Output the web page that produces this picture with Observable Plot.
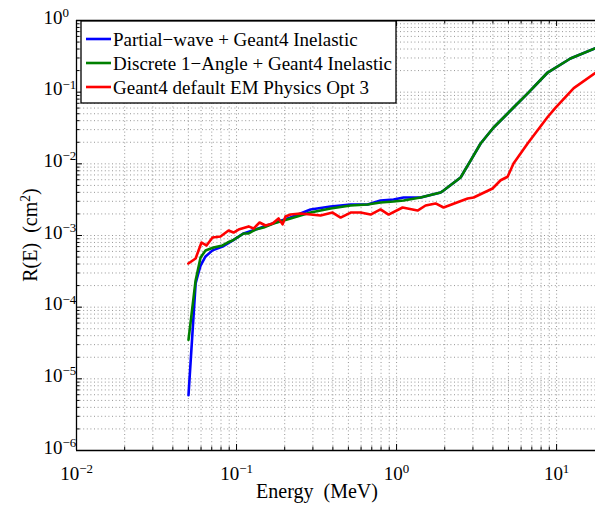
<!DOCTYPE html>
<html><head><meta charset="utf-8">
<script src="https://cdn.jsdelivr.net/npm/d3@7"></script>
<script src="https://cdn.jsdelivr.net/npm/@observablehq/plot@0.6"></script>
<style>
body{margin:0;background:#fff;overflow:hidden}
svg{display:block}
</style>
</head><body><div id="chart"></div>
<script>
// ---- data ----
const seriesNames = ["Partial\u2212wave + Geant4 Inelastic", "Discrete 1\u2212Angle + Geant4 Inelastic", "Geant4 default EM Physics Opt 3"];
const seriesColors = ["#0000ff", "#008000", "#ff0000"];

const blueE = [0.0501, 0.0555, 0.0579, 0.0596, 0.064, 0.0708, 0.0818, 0.0944, 0.1107, 0.1315, 0.1754, 0.2175, 0.29, 0.387, 0.516, 0.659, 0.794, 0.957, 1.106, 1.413, 1.884, 1.966, 2.512, 2.9, 3.35, 4.04, 5.38, 6.6, 8.79, 12.2, 17.5];
const blueR = [5.9e-6, 2.14e-4, 3.05e-4, 3.8e-4, 5.1e-4, 6.2e-4, 7.0e-4, 8.5e-4, 1.07e-3, 1.21e-3, 1.52e-3, 1.78e-3, 2.31e-3, 2.54e-3, 2.71e-3, 2.71e-3, 3.08e-3, 3.18e-3, 3.39e-3, 3.39e-3, 3.98e-3, 4.25e-3, 6.44e-3, 1.11e-2, 1.92e-2, 3.21e-2, 6.11e-2, 9.6e-2, 0.188, 0.295, 0.41];

const greenE = [0.0501, 0.0555, 0.0596, 0.064, 0.0718, 0.0818, 0.0879, 0.0944, 0.1107, 0.119, 0.1315, 0.1476, 0.170, 0.2175, 0.29, 0.387, 0.516, 0.659, 0.794, 0.957, 1.106, 1.413, 1.884, 1.966, 2.512, 2.9, 3.35, 4.04, 5.38, 6.6, 8.79, 12.2, 17.5];
const greenR = [3.5e-5, 2.36e-4, 4.93e-4, 6.18e-4, 6.8e-4, 7.26e-4, 7.98e-4, 8.51e-4, 1.067e-3, 1.067e-3, 1.21e-3, 1.29e-3, 1.47e-3, 1.73e-3, 2.09e-3, 2.38e-3, 2.62e-3, 2.71e-3, 2.89e-3, 2.98e-3, 3.08e-3, 3.39e-3, 3.98e-3, 4.25e-3, 6.44e-3, 1.11e-2, 1.92e-2, 3.21e-2, 6.11e-2, 9.6e-2, 0.188, 0.295, 0.41];

const redE = [0.05, 0.0555, 0.0604, 0.0649, 0.0708, 0.0794, 0.0891, 0.0958, 0.103, 0.119, 0.1277, 0.1393, 0.1518, 0.168, 0.183, 0.194, 0.2023, 0.2175, 0.251, 0.335, 0.398, 0.447, 0.516, 0.596, 0.688, 0.794, 0.891, 1.09, 1.353, 1.518, 1.753, 1.966, 2.78, 3.03, 3.98, 4.47, 4.94, 5.38, 6.59, 8.79, 9.86, 12.8, 17.5];
const redR = [4.07e-4, 4.78e-4, 7.98e-4, 7.26e-4, 9.38e-4, 9.69e-4, 1.175e-3, 1.10e-3, 1.21e-3, 1.34e-3, 1.25e-3, 1.52e-3, 1.38e-3, 1.47e-3, 1.73e-3, 1.43e-3, 1.84e-3, 1.96e-3, 2.03e-3, 1.90e-3, 2.09e-3, 1.78e-3, 2.09e-3, 2.09e-3, 1.96e-3, 2.31e-3, 1.96e-3, 2.46e-3, 2.23e-3, 2.62e-3, 2.80e-3, 2.46e-3, 3.28e-3, 3.39e-3, 4.53e-3, 5.9e-3, 6.6e-3, 1.01e-2, 1.92e-2, 4.5e-2, 6.1e-2, 0.114, 0.186];

const xMajorTicks = [0.01, 0.1, 1, 10];
const yMajorTicks = [1e-6, 1e-5, 1e-4, 1e-3, 1e-2, 1e-1, 1];
const xDomain = [0.01, 17.5];
const yDomain = [1e-6, 1];
const xLabel = "Energy\u00a0\u00a0(MeV)";
const yLabel = "R(E)\u00a0\u00a0(cm";

// ---- build ----
const minorOf = (majors, maxV) => majors.slice(0, -1).flatMap(m => [2,3,4,5,6,7,8,9].map(k => +(k*m).toPrecision(3))).concat([2,3,4,5,6,7,8,9].map(k => +(k*majors[majors.length-1]).toPrecision(3))).filter(v => v <= maxV);
const xMinorTicks = minorOf(xMajorTicks, xDomain[1]);
const yMinorTicks = minorOf(yMajorTicks, yDomain[1]).filter(v => v < 1);

const mk = (E, R, s) => E.map((e, i) => ({E: e, R: R[i], s}));
const sets = [mk(blueE, blueR, 0), mk(greenE, greenR, 1), mk(redE, redR, 2)];

const W = 595, H = 509, mL = 76, mT = 20, mB = 59, mR = 0;
const plotH = H - mT - mB, plotW = W - mL - mR;
const font = "'Liberation Serif', 'Times New Roman', serif";
const fmt = d => "10^" + String(Math.round(Math.log10(d))).replace("-", "\u2212");
const gridStyle = {stroke: "#8a8a8a", strokeDasharray: "1,2.6", strokeWidth: 0.9};

const svg = Plot.plot({
  width: W, height: H,
  marginLeft: mL, marginRight: mR, marginTop: mT, marginBottom: mB,
  style: {fontFamily: font, fontSize: "19px", background: "white", color: "black"},
  x: {type: "log", domain: xDomain, axis: null},
  y: {type: "log", domain: yDomain, axis: null},
  marks: [
    Plot.ruleX(xMinorTicks.concat(xMajorTicks), {x: d => d, ...gridStyle}),
    Plot.ruleY(yMinorTicks.concat(yMajorTicks), {y: d => d, ...gridStyle}),
    ...sets.map((data, i) => Plot.line(data, {x: "E", y: "R", stroke: seriesColors[i], strokeWidth: 2.6, strokeLinejoin: "round"})),
    // frame: left, bottom, top
    Plot.ruleX([xDomain[0]], {x: d => d, stroke: "black", strokeWidth: 1.3}),
    Plot.ruleY([yDomain[0], yDomain[1]], {y: d => d, stroke: "black", strokeWidth: 1.3}),
    // inward ticks
    Plot.tickX(xMajorTicks, {x: d => d, insetTop: plotH - 6, stroke: "black"}),
    Plot.tickX(xMinorTicks, {x: d => d, insetTop: plotH - 3.5, stroke: "black"}),
    Plot.tickX(xMajorTicks, {x: d => d, insetBottom: plotH - 6, stroke: "black"}),
    Plot.tickX(xMinorTicks, {x: d => d, insetBottom: plotH - 3.5, stroke: "black"}),
    Plot.tickY(yMajorTicks, {y: d => d, insetRight: plotW - 6, stroke: "black"}),
    Plot.tickY(yMinorTicks, {y: d => d, insetRight: plotW - 3.5, stroke: "black"}),
    // tick labels
    Plot.text(xMajorTicks, {x: d => d, frameAnchor: "bottom", text: fmt, textAnchor: "middle", lineAnchor: "bottom", dy: 29, fontSize: 19, fill: "black"}),
    Plot.text(yMajorTicks, {y: d => d, frameAnchor: "left", text: fmt, textAnchor: "start", lineAnchor: "bottom", dx: -33, dy: 3, fontSize: 19, fill: "black"})
  ]
});

const s = d3.select(svg);
// superscripts
s.selectAll("text").each(function() {
  const m = /^10\^(.*)$/.exec(this.textContent);
  if (m) {
    const t = d3.select(this);
    t.text(null);
    t.append("tspan").text("10");
    t.append("tspan").attr("dy", "-0.5em").attr("font-size", "0.68em").text(m[1]);
  }
});
// axis titles
s.append("text").attr("x", 317).attr("y", 498).attr("text-anchor", "middle")
  .attr("font-family", font).attr("font-size", 20).attr("fill", "black").text(xLabel);
const yl = s.append("text").attr("transform", `translate(37,${mT + plotH/2}) rotate(-90)`).attr("text-anchor", "middle")
  .attr("font-family", font).attr("font-size", 20).attr("fill", "black");
yl.append("tspan").text(yLabel);
yl.append("tspan").attr("dy", "-0.5em").attr("font-size", "0.68em").text("2");
yl.append("tspan").attr("dy", "0.34em").text(")");

// legend
const lg = s.append("g").attr("font-family", font).attr("font-size", 19).attr("text-anchor", "start");
lg.append("rect").attr("x", 81).attr("y", 21).attr("width", 315).attr("height", 82)
  .attr("fill", "white").attr("stroke", "black").attr("stroke-width", 1.3);
seriesNames.forEach((name, i) => {
  const y = 39 + i * 24;
  lg.append("line").attr("x1", 86).attr("x2", 111).attr("y1", y).attr("y2", y)
    .attr("stroke", seriesColors[i]).attr("stroke-width", 2.6);
  lg.append("text").attr("x", 113).attr("y", y + 6.5).attr("text-anchor", "start").attr("fill", "black").text(name);
});

document.getElementById("chart").appendChild(svg);
</script>
</body></html>
